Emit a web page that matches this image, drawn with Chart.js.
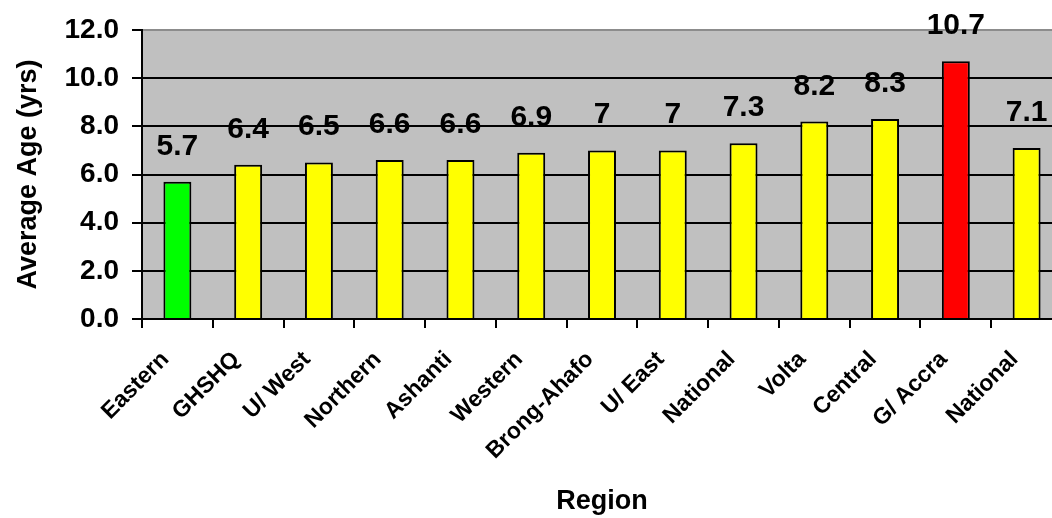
<!DOCTYPE html>
<html>
<head>
<meta charset="utf-8">
<script src="https://cdn.jsdelivr.net/npm/chart.js@4/dist/chart.umd.min.js"></script>
<style>
  html, body { margin: 0; padding: 0; background: #fff; overflow: hidden; }
  #wrap { width: 1052px; height: 518px; overflow: hidden; position: relative; }
  canvas { display: block; }
</style>
</head>
<body>
<div id="wrap"><canvas id="c" width="1072" height="518"></canvas></div>
<script>
const categories = ['Eastern', 'GHSHQ', 'U/ West', 'Northern', 'Ashanti', 'Western', 'Brong-Ahafo', 'U/ East', 'National', 'Volta', 'Central', 'G/ Accra', 'National'];
const averageAge = [5.7, 6.4, 6.5, 6.6, 6.6, 6.9, 7, 7, 7.3, 8.2, 8.3, 10.7, 7.1];
const barColors = ['#00FF00', '#FFFF00', '#FFFF00', '#FFFF00', '#FFFF00', '#FFFF00', '#FFFF00', '#FFFF00', '#FFFF00', '#FFFF00', '#FFFF00', '#FF0000', '#FFFF00'];
const yTicks = [0, 2, 4, 6, 8, 10, 12];

const FONT = '"Liberation Sans", Arial, sans-serif';

const plotBg = {
  id: 'plotBg',
  beforeDraw(chart) {
    const { ctx, chartArea: a } = chart;
    ctx.save();
    ctx.fillStyle = '#C0C0C0';
    ctx.fillRect(a.left, a.top, a.right - a.left, a.bottom - a.top);
    ctx.restore();
  }
};

const valueLabels = {
  id: 'valueLabels',
  afterDatasetsDraw(chart) {
    const { ctx } = chart;
    const meta = chart.getDatasetMeta(0);
    ctx.save();
    ctx.font = 'bold 30px ' + FONT;
    ctx.fillStyle = '#000';
    ctx.textAlign = 'center';
    ctx.textBaseline = 'alphabetic';
    meta.data.forEach((bar, i) => {
      ctx.fillText(String(averageAge[i]), bar.x, bar.y - 27);
    });
    ctx.restore();
  }
};

new Chart(document.getElementById('c'), {
  type: 'bar',
  data: {
    labels: categories,
    datasets: [{
      data: averageAge,
      backgroundColor: barColors,
      borderColor: '#000',
      borderWidth: 2,
      barPercentage: 0.395,
      categoryPercentage: 1
    }]
  },
  options: {
    responsive: false,
    animation: false,
    layout: { padding: { top: 30, right: 10, left: 0, bottom: 0 } },
    plugins: { legend: { display: false }, tooltip: { enabled: false } },
    scales: {
      x: {
        offset: true,
        grid: {
          offset: true,
          display: true,
          drawOnChartArea: false,
          drawTicks: true,
          tickLength: 9,
          color: '#000',
          lineWidth: 2
        },
        border: { display: true, color: '#000', width: 2 },
        ticks: {
          autoSkip: false,
          minRotation: 45,
          maxRotation: 45,
          padding: 18,
          labelOffset: -12,
          color: '#000',
          font: { family: FONT, size: 23, weight: 'bold' }
        },
        title: {
          display: true,
          text: 'Region',
          color: '#000',
          padding: { top: 0, bottom: 0 },
          font: { family: FONT, size: 27, weight: 'bold' }
        },
        afterFit(scale) { scale.height = 199; }
      },
      y: {
        min: 0,
        max: 12,
        afterBuildTicks(scale) { scale.ticks = yTicks.map(v => ({ value: v })); },
        grid: {
          color: ctx => (ctx.tick && ctx.tick.value === 12) ? '#8C8C8C' : '#000',
          tickColor: '#000',
          lineWidth: 2,
          tickLength: 10,
          drawTicks: true
        },
        border: { display: true, color: '#000', width: 2 },
        ticks: {
          padding: 13,
          color: '#000',
          font: { family: FONT, size: 28, weight: 'bold' },
          callback: v => Number(v).toFixed(1)
        },
        title: {
          display: true,
          text: 'Average Age (yrs)',
          color: '#000',
          padding: { top: 12, bottom: 0 },
          font: { family: FONT, size: 27, weight: 'bold' }
        },
        afterFit(scale) { scale.width = 142; }
      }
    }
  },
  plugins: [plotBg, valueLabels]
});
</script>
</body>
</html>
